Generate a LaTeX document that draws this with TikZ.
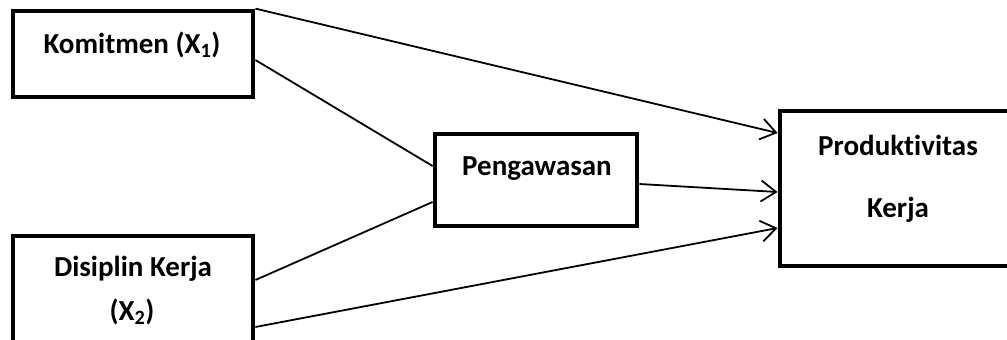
\documentclass[tikz,border=0pt]{standalone}
\usepackage{fontspec}
\setmainfont{Carlito}[Ligatures=NoCommon]
\usetikzlibrary{arrows.meta}
\begin{document}
\begin{tikzpicture}[x=1pt,y=-1pt,
  box/.style={draw=black,line width=4.8pt,fill=white,inner sep=0pt},
  lbl/.style={anchor=base,inner sep=0pt,font=\fontsize{29}{35}\selectfont\bfseries},
  link/.style={draw=black,line width=1.8pt},
  arr/.style={link,-{Straight Barb[length=15pt,width=21pt,line width=1.8pt]}}]
\useasboundingbox (0,0) rectangle (1007,340);
\clip (0,0) rectangle (1007,340);
\fill[white] (0,0) rectangle (1007,340);
% boxes
\node[box,minimum width=240pt,minimum height=86pt] (kom) at (133,54) {};
\node[box,minimum width=240pt,minimum height=120pt] (dis) at (133,296) {};
\node[box,minimum width=202pt,minimum height=92pt] (pen) at (536,180) {};
\node[box,minimum width=236pt,minimum height=155pt] (prod) at (898,188.5) {};
% labels
\node[lbl] (komt) at (132,53) {Komitmen (X\textsubscript{1})};
\node[lbl] (dist1) at (133,276) {Disiplin Kerja};
\node[lbl] (dist2) at (132,320) {(X\textsubscript{2})};
\node[lbl] (pent) at (537,175) {Pengawasan};
\node[lbl] (prodt1) at (898,155) {Produktivitas};
\node[lbl] (prodt2) at (898,217) {Kerja};
% connectors
\draw[arr] (kom.north east) -- ([yshift=55.5pt]prod.west);
\draw[link] ([yshift=-6pt]kom.east) -- ([yshift=14pt]pen.west);
\draw[link] ([yshift=16pt]dis.east) -- ([yshift=-22pt]pen.west);
\draw[arr] ([yshift=-31pt]dis.east) -- ([yshift=-39.5pt]prod.west);
\draw[arr] ([yshift=-4pt]pen.east) -- ([yshift=-3.5pt]prod.west);
\end{tikzpicture}
\end{document}
